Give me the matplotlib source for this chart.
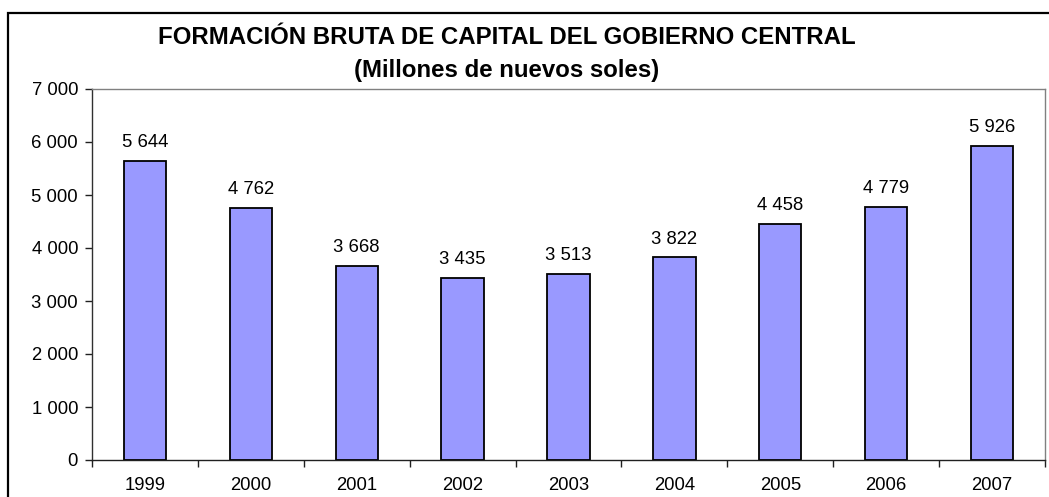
import matplotlib
matplotlib.use("Agg")
import matplotlib.pyplot as plt
from matplotlib.patches import Rectangle

years = ["1999", "2000", "2001", "2002", "2003", "2004", "2005", "2006", "2007"]
values = [5644, 4762, 3668, 3435, 3513, 3822, 4458, 4779, 5926]
yticks = [0, 1000, 2000, 3000, 4000, 5000, 6000, 7000]
title1 = "FORMACIÓN BRUTA DE CAPITAL DEL GOBIERNO CENTRAL"
title2 = "(Millones de nuevos soles)"

def fmt(v):
    return f"{v:,}".replace(",", " ")

plt.rcParams['font.family'] = ['Liberation Sans', 'DejaVu Sans']

W, H = 1049, 497
fig = plt.figure(figsize=(W/100, H/100), dpi=100)
fig.patch.set_facecolor("white")

# outer chart border
fig.add_artist(Rectangle((8/W, -0.1), 1.2, (H-13)/H + 0.1, transform=fig.transFigure,
                         fill=False, edgecolor="black", linewidth=1.6))

FS = 13.3
ax = fig.add_axes([92/W, (H-460)/H, (1045-92)/W, (460-89)/H])
x = list(range(len(years)))
ax.bar(x, values, width=0.4, color="#9999FF", edgecolor="black", linewidth=1.3, zorder=2)
for xi, v in zip(x, values):
    ax.annotate(fmt(v), (xi, v), xytext=(0, 7), textcoords="offset points",
                ha="center", va="bottom", fontsize=FS)

ax.set_xlim(-0.5, len(years) - 0.5)
ax.set_ylim(0, 7000)
ax.set_yticks(yticks)
ax.set_yticklabels([fmt(t) for t in yticks], fontsize=FS)
ax.set_xticks(x)
ax.set_xticklabels(years, fontsize=FS)
ax.tick_params(axis="x", length=0, pad=12)
ax.set_xticks([i + 0.5 for i in range(-1, len(years))], minor=True)
ax.tick_params(axis="x", which="minor", length=5, width=1, color="#202020")
ax.tick_params(axis="y", length=5, width=1, color="#202020", pad=5)

ax.spines["left"].set_color("#303030")
ax.spines["bottom"].set_color("#202020")
ax.spines["top"].set_color("#808080")
ax.spines["right"].set_color("#808080")
for s in ax.spines.values():
    s.set_linewidth(1)

fig.text(507/W, 1 - 38/H, title1, ha="center", va="center", fontsize=17.3, fontweight="bold")
fig.text(507/W, 1 - 70/H, title2, ha="center", va="center", fontsize=17.3, fontweight="bold")

fig.savefig("out.png", dpi=100)
